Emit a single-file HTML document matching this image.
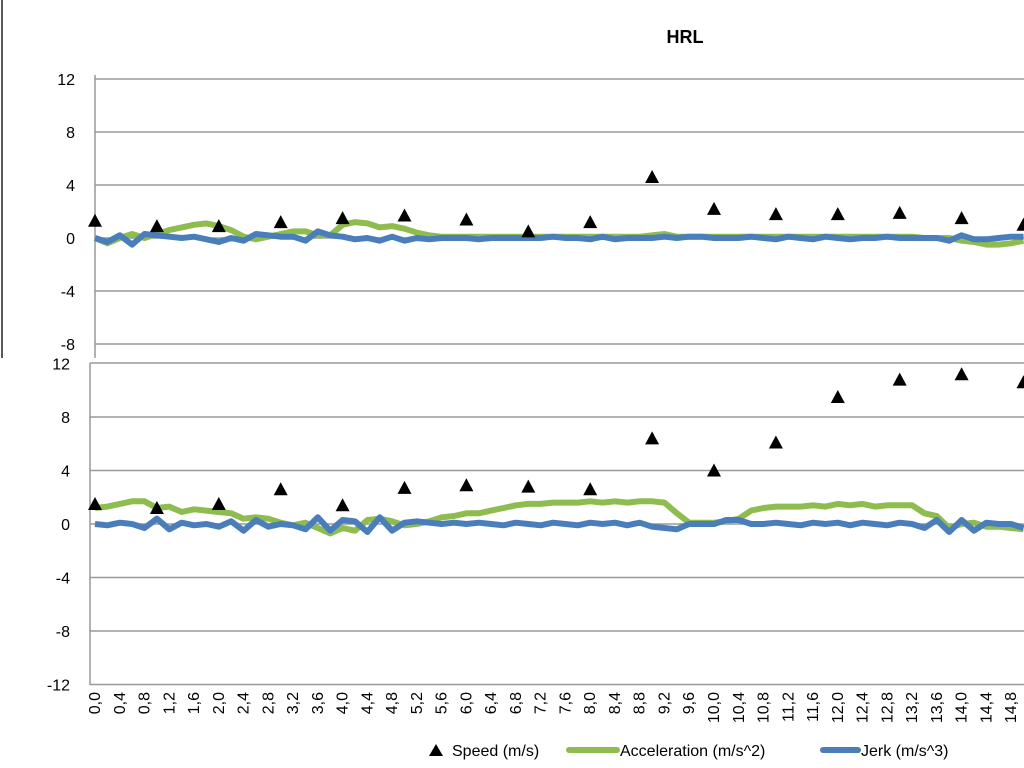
<!DOCTYPE html>
<html><head><meta charset="utf-8"><style>
html,body{margin:0;padding:0;background:#fff;width:1024px;height:768px;overflow:hidden}
svg{display:block;font-family:"Liberation Sans",sans-serif}
</style></head><body>
<svg id="c" width="1024" height="768" viewBox="0 0 1024 768" xmlns="http://www.w3.org/2000/svg">
<line x1="2" y1="0" x2="2" y2="358" stroke="#222" stroke-width="1.5"/>
<text x="685" y="43" font-size="18" font-weight="bold" text-anchor="middle">HRL</text>
<g id="top"></g>
<g id="bot"></g>
<g id="xl"></g>
<g font-size="16">
<g><path d="M429,756 L436,744 L443,756 Z" fill="#000"/><text x="452" y="756">Speed (m/s)</text></g>
<g><line x1="569" y1="750" x2="617" y2="750" stroke="#8fbc4f" stroke-width="6" stroke-linecap="round"/><text x="620" y="756">Acceleration (m/s^2)</text></g>
<g><line x1="823" y1="750" x2="858" y2="750" stroke="#4a7ebb" stroke-width="6" stroke-linecap="round"/><text x="861" y="756">Jerk (m/s^3)</text></g>
</g>
</svg>
<script>
const yTicks=[12,8,4,0,-4,-8,-12];
const speedTimes=[0,1,2,3,4,5,6,7,8,9,10,11,12,13,14,15];
const speedTop=[1.3,0.9,0.9,1.2,1.5,1.7,1.4,0.5,1.2,4.6,2.2,1.8,1.8,1.9,1.5,1.0];
const speedBot=[1.5,1.2,1.5,2.6,1.4,2.7,2.9,2.8,2.6,6.4,4.0,6.1,9.5,10.8,11.2,10.6];
const accTop=[0.0,-0.4,0.0,0.3,0.0,0.3,0.6,0.8,1.0,1.1,0.9,0.6,0.1,-0.1,0.1,0.3,0.5,0.5,0.2,0.2,1.0,1.2,1.1,0.8,0.9,0.7,0.4,0.2,0.1,0.1,0.1,0.1,0.1,0.1,0.1,0.1,0.1,0.1,0.1,0.1,0.1,0.1,0.1,0.1,0.1,0.2,0.3,0.1,0.1,0.1,0.1,0.1,0.1,0.1,0.1,0.1,0.1,0.1,0.1,0.1,0.1,0.1,0.1,0.1,0.1,0.1,0.1,0.0,0.0,0.0,-0.2,-0.3,-0.5,-0.5,-0.4,-0.2];
const jerkTop=[0,-0.3,0.2,-0.5,0.3,0.2,0.1,0,0.1,-0.1,-0.3,0,-0.2,0.3,0.2,0.1,0.1,-0.2,0.5,0.2,0.1,-0.1,0,-0.2,0.1,-0.2,0,-0.1,0,0,0,-0.1,0,0,0,0,0,0.1,0,0,-0.1,0.1,-0.1,0,0,0,0.1,0,0.1,0.1,0,0,0,0.1,0,-0.1,0.1,0,-0.1,0.1,0,-0.1,0,0,0.1,0,0,0,0,-0.2,0.2,-0.1,-0.1,0,0.1,0.1];
const accBot=[1.2,1.3,1.5,1.7,1.7,1.2,1.3,0.9,1.1,1.0,0.9,0.8,0.4,0.5,0.4,0.1,-0.1,0.1,-0.3,-0.7,-0.3,-0.5,0.3,0.4,0.2,-0.1,0.0,0.2,0.5,0.6,0.8,0.8,1.0,1.2,1.4,1.5,1.5,1.6,1.6,1.6,1.7,1.6,1.7,1.6,1.7,1.7,1.6,0.8,0.1,0.1,0.1,0.2,0.4,1.0,1.2,1.3,1.3,1.3,1.4,1.3,1.5,1.4,1.5,1.3,1.4,1.4,1.4,0.8,0.6,-0.3,0.0,0.1,-0.2,-0.2,-0.3,-0.4];
const jerkBot=[0,-0.1,0.1,0,-0.3,0.4,-0.4,0.1,-0.1,0,-0.2,0.2,-0.5,0.3,-0.2,0,-0.1,-0.4,0.5,-0.5,0.3,0.2,-0.6,0.5,-0.5,0.1,0.2,0.1,0,0.1,0,0.1,0,-0.1,0.1,0,-0.1,0.1,0,-0.1,0.1,0,0.1,-0.1,0.1,-0.2,-0.3,-0.4,0,0,0,0.3,0.3,0,0,0.1,0,-0.1,0.1,0,0.1,-0.1,0.1,0,-0.1,0.1,0,-0.3,0.3,-0.6,0.3,-0.5,0.1,0,0,-0.3];
const xTickLabels=[];
for(let i=0;i<=37;i++){xTickLabels.push((i*0.4).toFixed(1).replace('.',','));}
const NS='http://www.w3.org/2000/svg';
const X=t=>95+61.9*t;
function mk(tag,attrs,parent){const e=document.createElementNS(NS,tag);for(const k in attrs)e.setAttribute(k,attrs[k]);parent.appendChild(e);return e;}
function panel(g,Y,left,top,bottom,speed,acc,jerk){
  yTicks.forEach(v=>{const y=Y(v);if(y<top-2||y>bottom+2)return;
    if(v!==yTicks[0]||g.id==='top'){const l=mk('line',{x1:left,x2:1024,y1:y,y2:y,stroke:'#999','stroke-width':1.5},g);
    
    }
    const t=mk('text',{x:left-20,y:y+6,'font-size':16,'text-anchor':'end'},g);t.textContent=v;
    
    });
  const ax=mk('line',{x1:left,x2:left,y1:top,y2:bottom,stroke:'#999','stroke-width':1.5},g);
  
  
  const pts=a=>a.map((v,i)=>X(i*0.2).toFixed(1)+','+Y(v).toFixed(1)).join(' ');
  const pa=mk('polyline',{points:pts(acc),fill:'none',stroke:'#8fbc4f','stroke-width':6,'stroke-linejoin':'round'},g);
  
  
  const pj=mk('polyline',{points:pts(jerk),fill:'none',stroke:'#4a7ebb','stroke-width':6,'stroke-linejoin':'round'},g);
  
  
  speed.forEach((v,i)=>{const x=X(speedTimes[i]),y=Y(v);
    const p=mk('path',{d:`M${x-7},${y+6} L${x},${y-7} L${x+7},${y+6} Z`,fill:'#000'},g);
    
    });
}
const gt=document.getElementById('top'),gb=document.getElementById('bot');
panel(gt,v=>238-v*13.25,95,75,358,speedTop,accTop,jerkTop);
panel(gb,v=>524-v*13.37,90,363,685,speedBot,accBot,jerkBot);
const tb=mk('line',{x1:90,x2:1024,y1:363,y2:363,stroke:'#999','stroke-width':1.5},gb);


const xl=document.getElementById('xl');
xTickLabels.forEach((s,i)=>{const x=95+24.76*i;
  const t=mk('text',{x:0,y:0,'font-size':16,'text-anchor':'end',transform:`translate(${x+5},692) rotate(-90)`},xl);
  t.textContent=s;
  
  });
</script>
</body></html>
